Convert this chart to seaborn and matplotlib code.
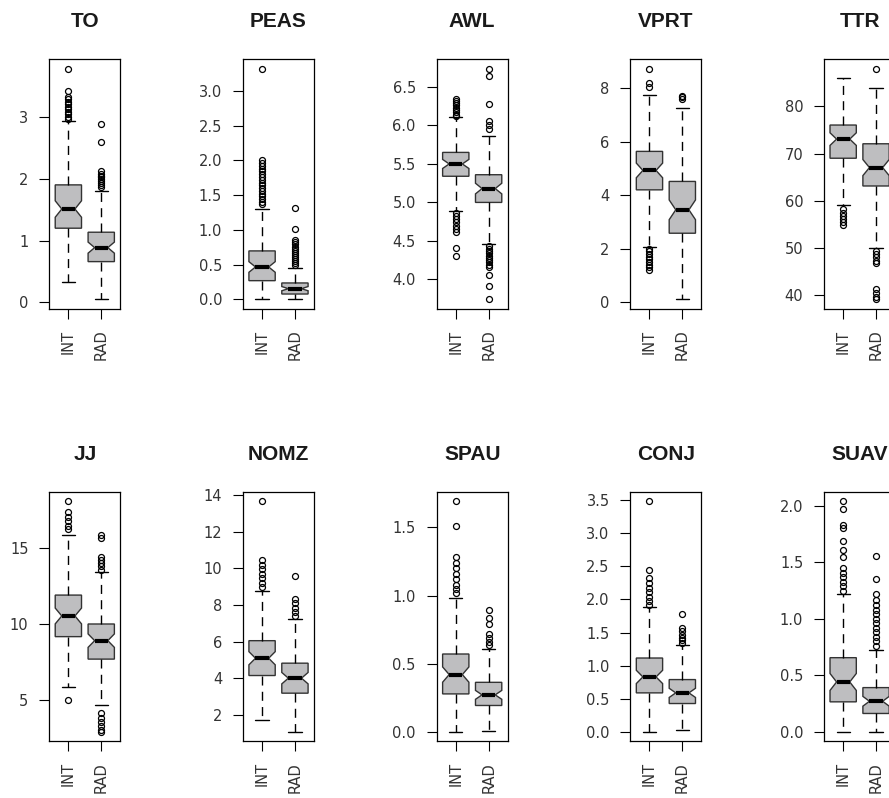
import numpy as np
import pandas as pd
import matplotlib.pyplot as plt
import seaborn as sns

# variables and groups
features = ["TO", "PEAS", "AWL", "VPRT", "TTR", "JJ", "NOMZ", "SPAU", "CONJ", "SUAV"]
groups = ["INT", "RAD"]

# INT: lower whisker, Q1, median, Q3, upper whisker
int_lo = [0.335, 0.0, 4.885, 2.057, 59.08, 5.87, 1.73, 0.0, 0.0, 0.0]
int_q1 = [1.20, 0.269, 5.34, 4.20, 69.0, 9.165, 4.145, 0.278, 0.588, 0.265]
int_med = [1.51, 0.466, 5.50, 4.925, 73.05, 10.53, 5.09, 0.42, 0.829, 0.441]
int_q3 = [1.90, 0.697, 5.65, 5.636, 76.03, 11.91, 6.05, 0.571, 1.115, 0.656]
int_hi = [2.93, 1.298, 6.105, 7.755, 86.0, 15.87, 8.78, 0.98, 1.88, 1.22]
int_out = [
    [3.78, 3.42, 3.32, 3.28, 3.24, 3.20, 3.16, 3.12, 3.08, 3.04, 3.00, 2.97],
    [3.32, 2.00, 1.96, 1.92, 1.88, 1.84, 1.80, 1.76, 1.72, 1.68, 1.64, 1.60, 1.56, 1.52, 1.48, 1.44, 1.40, 1.37],
    [6.35, 6.32, 6.29, 6.26, 6.23, 6.20, 6.17, 6.14, 6.12, 4.86, 4.82, 4.78, 4.74, 4.70, 4.66, 4.62, 4.41, 4.30],
    [8.73, 8.19, 8.04, 2.00, 1.90, 1.80, 1.70, 1.60, 1.50, 1.40, 1.30, 1.22],
    [58.2, 57.5, 56.8, 56.1, 55.4, 54.8],
    [18.13, 17.4, 17.1, 16.8, 16.5, 16.25, 5.0],
    [13.69, 10.45, 10.2, 9.95, 9.7, 9.45, 9.2, 9.0],
    [1.695, 1.51, 1.28, 1.24, 1.20, 1.16, 1.12, 1.08, 1.05, 1.02],
    [3.49, 2.44, 2.32, 2.25, 2.18, 2.11, 2.04, 1.97, 1.92],
    [2.044, 1.97, 1.83, 1.80, 1.685, 1.61, 1.544, 1.45, 1.41, 1.37, 1.33, 1.29, 1.25],
]

# RAD
rad_lo = [0.05, 0.0, 4.465, 0.11, 50.0, 4.62, 1.07, 0.005, 0.025, 0.0]
rad_q1 = [0.66, 0.077, 5.0, 2.58, 63.12, 7.68, 3.18, 0.193, 0.427, 0.162]
rad_med = [0.886, 0.154, 5.18, 3.454, 67.02, 8.9, 4.0, 0.271, 0.588, 0.27]
rad_q3 = [1.135, 0.236, 5.36, 4.514, 72.06, 10.0, 4.82, 0.363, 0.789, 0.391]
rad_hi = [1.805, 0.452, 5.86, 7.257, 83.9, 13.45, 7.24, 0.607, 1.317, 0.72]
rad_out = [
    [2.88, 2.59, 2.12, 2.08, 2.05, 2.02, 1.99, 1.96, 1.93, 1.90, 1.87],
    [1.31, 1.01, 0.85, 0.82, 0.79, 0.76, 0.73, 0.70, 0.67, 0.64, 0.61, 0.58, 0.55, 0.52, 0.49],
    [6.74, 6.64, 6.28, 6.06, 6.01, 5.95, 4.43, 4.40, 4.37, 4.34, 4.31, 4.28, 4.25, 4.22, 4.19, 4.16, 4.06, 3.92, 3.74],
    [7.72, 7.66, 7.60],
    [88.0, 49.4, 48.7, 48.0, 47.3, 46.7, 41.3, 40.4, 39.7, 39.1],
    [15.87, 15.65, 14.45, 14.2, 14.0, 13.8, 13.6, 4.1, 3.8, 3.5, 3.25, 3.0, 2.88],
    [9.58, 8.35, 8.1, 7.85, 7.6, 7.4],
    [0.895, 0.834, 0.79, 0.72, 0.69, 0.66, 0.635],
    [1.779, 1.568, 1.52, 1.47, 1.42, 1.38, 1.34],
    [1.553, 1.353, 1.22, 1.17, 1.12, 1.08, 1.04, 1.00, 0.96, 0.92, 0.88, 0.84, 0.80, 0.76],
]

# y tick values per panel
yticks = [
    [0, 1, 2, 3],
    [0.0, 0.5, 1.0, 1.5, 2.0, 2.5, 3.0],
    [4.0, 4.5, 5.0, 5.5, 6.0, 6.5],
    [0, 2, 4, 6, 8],
    [40, 50, 60, 70, 80],
    [5, 10, 15],
    [2, 4, 6, 8, 10, 12, 14],
    [0.0, 0.5, 1.0, 1.5],
    [0.0, 0.5, 1.0, 1.5, 2.0, 2.5, 3.0, 3.5],
    [0.0, 0.5, 1.0, 1.5, 2.0],
]


def box_sample(lo, q1, med, q3, hi, out, n_target=68):
    # build a sample whose quartiles / whiskers / outliers are exactly the values above
    low = [v for v in out if v < q1]
    high = [v for v in out if v > q3]
    m = max(len(low), len(high)) + 1
    k = max(-(-(2 * m + 1) // 3), round((n_target - 2 * m) / 3), 6)
    return (low + [lo] * (m - len(low)) + [q1] * k + [med] * k + [q3] * k
            + [hi] * (m - len(high)) + high)


sns.set_style("white")
plt.rcParams['font.family'] = ['DejaVu Sans']

W, H = 889, 798
fig = plt.figure(figsize=(W / 100, H / 100), dpi=100)

for i, name in enumerate(features):
    row, col = divmod(i, 5)
    left = 49.3 + col * 193.7
    top = 59.3 if row == 0 else 491.7
    ax = fig.add_axes([left / W, 1 - (top + 249.3) / H, 71 / W, 249.3 / H])

    v_int = box_sample(int_lo[i], int_q1[i], int_med[i], int_q3[i], int_hi[i], int_out[i])
    v_rad = box_sample(rad_lo[i], rad_q1[i], rad_med[i], rad_q3[i], rad_hi[i], rad_out[i])
    df = pd.DataFrame({
        'group': ['INT'] * len(v_int) + ['RAD'] * len(v_rad),
        'value': v_int + v_rad,
    })

    sns.boxplot(data=df, x='group', y='value', order=groups, ax=ax,
                notch=True, width=0.8, whis=1.5, color='#bebec0', saturation=1,
                linecolor='#333333', linewidth=1.0,
                medianprops=dict(color='black', linewidth=3),
                whiskerprops=dict(color='black', linestyle=(0, (6.5, 4.5))),
                capprops=dict(color='black'),
                flierprops=dict(marker='o', markerfacecolor='none', markeredgecolor='black',
                                markersize=4.3, markeredgewidth=0.9))

    vals = np.array(v_int + v_rad)
    pad = 0.04 * (vals.max() - vals.min())
    ax.set_ylim(vals.min() - pad, vals.max() + pad)
    ax.set_xlim(-0.58, 1.58)
    ax.set_yticks(yticks[i])
    ax.set_xlabel('')
    ax.set_ylabel('')
    ax.tick_params(axis='both', direction='out', length=7, width=0.8, color='black',
                   labelsize=10.5, labelcolor='#333333', pad=8, left=True, bottom=True)
    ax.tick_params(axis='x', labelrotation=90)
    for s in ax.spines.values():
        s.set_visible(True)
        s.set_color('black')
        s.set_linewidth(0.9)
    ax.set_title(name, fontsize=15, fontweight='bold', family='Liberation Sans',
                 color='#1a1a1a', pad=23)

plt.savefig('out.png', dpi=100)
